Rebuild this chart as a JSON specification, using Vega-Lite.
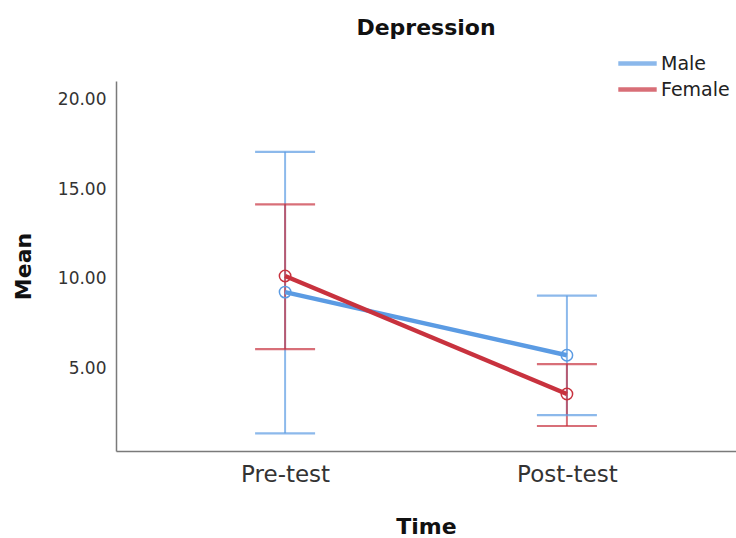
{
  "$schema": "https://vega.github.io/schema/vega-lite/v6.json",
  "width": 620,
  "height": 370,
  "autosize": "none",
  "padding": {"left": 116, "top": 81, "right": 0, "bottom": 87},
  "background": "white",
  "config": {
    "font": "DejaVu Sans",
    "view": {"stroke": null},
    "axis": {"grid": false, "ticks": false, "domainColor": "#7a7a7a", "domainWidth": 1.5, "labelColor": "#333333", "titleColor": "#111111", "titleFontWeight": "bold"}
  },
  "title": {"text": "Depression", "fontSize": 22, "fontWeight": "bold", "color": "#111111", "anchor": "middle", "offset": 9, "font": "DejaVu Sans"},
  "data": {
    "values": [
      {"Time": "Pre-test", "Sex": "Male", "Mean": 9.25, "Lower": 1.35, "Upper": 17.1},
      {"Time": "Post-test", "Sex": "Male", "Mean": 5.72, "Lower": 2.37, "Upper": 9.05},
      {"Time": "Pre-test", "Sex": "Female", "Mean": 10.15, "Lower": 6.06, "Upper": 14.16},
      {"Time": "Post-test", "Sex": "Female", "Mean": 3.55, "Lower": 1.76, "Upper": 5.22}
    ]
  },
  "encoding": {
    "x": {"field": "Time", "type": "nominal", "sort": ["Pre-test", "Post-test"],
      "scale": {"type": "point", "padding": 0.6},
      "axis": {"title": "Time", "labelAngle": 0, "labelFontSize": 23, "labelPadding": 12, "titleFontSize": 22, "titlePadding": 30}},
    "color": {"field": "Sex", "type": "nominal",
      "scale": {"domain": ["Male", "Female"], "range": ["#5b9be3", "#c8323e"]},
      "legend": {"title": null, "orient": "none", "legendX": 500, "legendY": -32, "symbolType": "M-1.6,0L1.6,0", "symbolSize": 576, "symbolStrokeWidth": 4.5, "labelFontSize": 19, "labelColor": "#222222", "rowPadding": 1, "symbolOffset": 7, "labelOffset": 9}}
  },
  "layer": [
    {
      "mark": {"type": "rule", "strokeWidth": 2, "opacity": 0.7},
      "encoding": {
        "y": {"field": "Lower", "type": "quantitative",
          "scale": {"domain": [0.36, 21.06], "nice": false, "zero": false},
          "axis": {"title": "Mean", "values": [5, 10, 15, 20], "format": ".2f", "labelFontSize": 17, "labelPadding": 10, "titleFontSize": 22, "titlePadding": 22}},
        "y2": {"field": "Upper"}
      }
    },
    {
      "mark": {"type": "tick", "size": 60, "thickness": 2.2, "opacity": 0.7},
      "encoding": {"y": {"field": "Lower", "type": "quantitative"}}
    },
    {
      "mark": {"type": "tick", "size": 60, "thickness": 2.2, "opacity": 0.7},
      "encoding": {"y": {"field": "Upper", "type": "quantitative"}}
    },
    {
      "mark": {"type": "line", "strokeWidth": 4.5},
      "encoding": {"y": {"field": "Mean", "type": "quantitative"}, "detail": {"field": "Sex"}}
    },
    {
      "mark": {"type": "point", "filled": false, "size": 130, "strokeWidth": 1.5, "opacity": 1},
      "encoding": {"y": {"field": "Mean", "type": "quantitative"}}
    }
  ]
}
